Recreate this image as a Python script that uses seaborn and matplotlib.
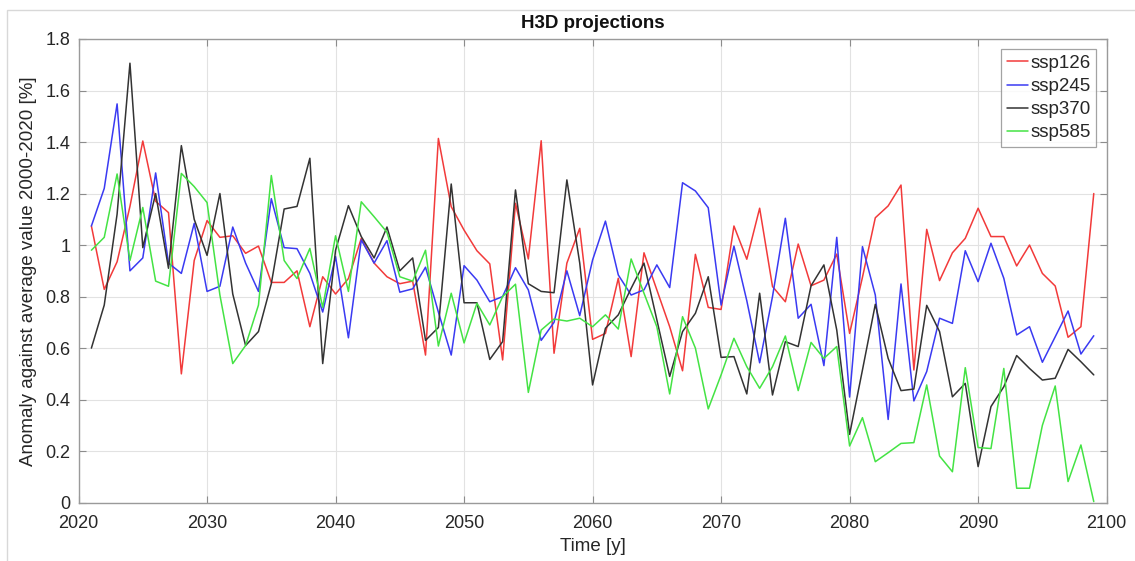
import numpy as np
import pandas as pd
import matplotlib
matplotlib.use("Agg")
import matplotlib.pyplot as plt
import seaborn as sns
from matplotlib.patches import Rectangle

years = list(range(2021, 2100))

ssp126 = [1.074, 0.828, 0.935, 1.15, 1.404, 1.17, 1.126, 0.50, 0.94, 1.095,
          1.03, 1.036, 0.968, 0.996, 0.855, 0.855, 0.90, 0.683, 0.877, 0.81,
          0.87, 1.026, 0.93, 0.877, 0.85, 0.86, 0.573, 1.414, 1.149, 1.058,
          0.978, 0.927, 0.554, 1.162, 0.946, 1.405, 0.58, 0.93, 1.065, 0.634,
          0.657, 0.871, 0.567, 0.97, 0.826, 0.683, 0.512, 0.964, 0.758, 0.75,
          1.074, 0.945, 1.143, 0.839, 0.78, 1.004, 0.842, 0.864, 0.965, 0.657,
          0.875, 1.106, 1.152, 1.233, 0.515, 1.061, 0.862, 0.97, 1.026, 1.143,
          1.033, 1.033, 0.919, 1.0, 0.89, 0.841, 0.642, 0.683, 1.20]

ssp245 = [1.074, 1.22, 1.548, 0.90, 0.95, 1.28, 0.93, 0.89, 1.084, 0.82,
          0.84, 1.07, 0.93, 0.82, 1.18, 0.99, 0.986, 0.89, 0.74, 0.955,
          0.64, 1.02, 0.93, 1.017, 0.817, 0.83, 0.914, 0.74, 0.573, 0.92,
          0.864, 0.78, 0.80, 0.912, 0.826, 0.63, 0.70, 0.90, 0.726, 0.942,
          1.093, 0.884, 0.806, 0.826, 0.923, 0.835, 1.242, 1.21, 1.145, 0.767,
          0.996, 0.784, 0.543, 0.80, 1.104, 0.716, 0.77, 0.532, 1.03, 0.41,
          0.994, 0.806, 0.323, 0.849, 0.395, 0.509, 0.716, 0.696, 0.978, 0.858,
          1.007, 0.871, 0.651, 0.683, 0.545, 0.644, 0.744, 0.577, 0.648]

ssp370 = [0.60, 0.767, 1.12, 1.706, 0.99, 1.20, 0.91, 1.386, 1.10, 0.96,
          1.20, 0.81, 0.61, 0.664, 0.85, 1.14, 1.15, 1.337, 0.54, 0.98,
          1.153, 1.033, 0.95, 1.07, 0.90, 0.95, 0.63, 0.68, 1.237, 0.776,
          0.776, 0.556, 0.625, 1.214, 0.85, 0.82, 0.815, 1.253, 0.93, 0.457,
          0.677, 0.729, 0.832, 0.93, 0.71, 0.49, 0.664, 0.735, 0.877, 0.564,
          0.567, 0.422, 0.813, 0.418, 0.625, 0.606, 0.842, 0.923, 0.67, 0.265,
          0.515, 0.77, 0.56, 0.435, 0.441, 0.766, 0.664, 0.411, 0.463, 0.14,
          0.373, 0.45, 0.571, 0.521, 0.476, 0.483, 0.595, 0.547, 0.496]

ssp585 = [0.98, 1.03, 1.276, 0.94, 1.146, 0.86, 0.84, 1.278, 1.227, 1.165,
          0.806, 0.54, 0.61, 0.767, 1.27, 0.94, 0.87, 0.987, 0.758, 1.036,
          0.82, 1.168, 1.11, 1.05, 0.877, 0.86, 0.98, 0.608, 0.813, 0.62,
          0.774, 0.69, 0.80, 0.848, 0.428, 0.67, 0.713, 0.705, 0.716, 0.683,
          0.729, 0.674, 0.946, 0.813, 0.683, 0.422, 0.722, 0.60, 0.364, 0.496,
          0.638, 0.528, 0.444, 0.528, 0.647, 0.435, 0.622, 0.56, 0.606, 0.22,
          0.33, 0.159, 0.194, 0.23, 0.233, 0.457, 0.181, 0.12, 0.524, 0.214,
          0.21, 0.521, 0.056, 0.056, 0.30, 0.453, 0.082, 0.224, 0.004]

scenarios = ["ssp126", "ssp245", "ssp370", "ssp585"]
colors = ["#f23a3a", "#3a3af2", "#333333", "#44e344"]

df = pd.concat([
    pd.DataFrame({"year": years, "anomaly": vals, "scenario": name})
    for name, vals in zip(scenarios, [ssp126, ssp245, ssp370, ssp585])
])

sns.set_theme(style="white")
plt.rcParams["font.family"] = ["Liberation Sans", "DejaVu Sans"]

fig = plt.figure(figsize=(11.35, 5.61), dpi=100)
ax = fig.add_axes([0.0692, 0.104, 0.9058, 0.8265])

sns.lineplot(data=df, x="year", y="anomaly", hue="scenario",
             hue_order=scenarios, palette=colors, linewidth=1.1, ax=ax)

ax.set_xlim(2020, 2100)
ax.set_ylim(0, 1.8)
ax.set_xticks(range(2020, 2101, 10))
ax.set_yticks(np.arange(0, 1.81, 0.2))
ax.set_yticklabels(["0", "0.2", "0.4", "0.6", "0.8", "1", "1.2", "1.4", "1.6", "1.8"])
ax.grid(True, color="#e2e2e2", linewidth=0.8)
ax.tick_params(direction="in", length=5, width=0.8, color="#8c8c8c",
               labelcolor="#262626", labelsize=13, top=True, right=True,
               bottom=True, left=True)
ax.tick_params(axis="x", pad=9)
ax.tick_params(axis="y", pad=6)
for sp in ax.spines.values():
    sp.set_color("#9a9a9a")
    sp.set_linewidth(1.0)

ax.set_xlabel("Time [y]", fontsize=13.5, color="#262626", labelpad=4)
ax.set_ylabel("Anomaly against average value 2000-2020 [%]", fontsize=13.5,
              color="#262626", labelpad=6)
ax.set_title("H3D projections", fontsize=13.5, fontweight="bold",
             color="#111111", pad=8)

leg = ax.legend(loc="upper right", fontsize=13.5, frameon=True, fancybox=False,
                handlelength=1.1, handletextpad=0.15, borderpad=0.3,
                labelspacing=0.32, borderaxespad=0.55)
leg.get_frame().set_edgecolor("#8c8c8c")
leg.get_frame().set_linewidth(0.9)
for line in leg.get_lines():
    line.set_linewidth(1.1)

# faint outer frame around the figure
fig.patches.append(Rectangle((7 / 1135, -0.1), 1.2, (551 / 561) + 0.1,
                             transform=fig.transFigure, fill=False,
                             edgecolor="#d8d8d8", linewidth=1.0))

fig.savefig("out.png", dpi=100)
